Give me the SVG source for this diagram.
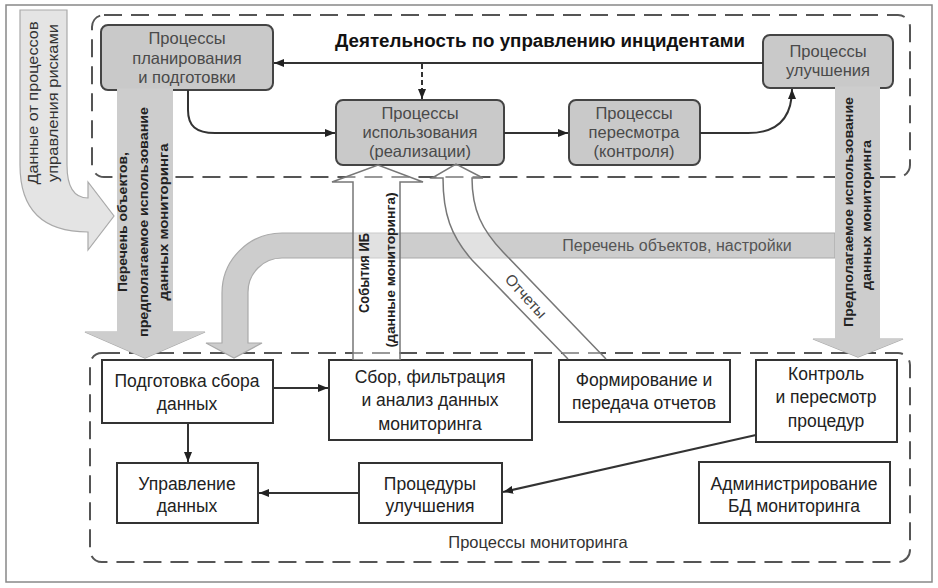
<svg xmlns="http://www.w3.org/2000/svg" width="938" height="588" viewBox="0 0 938 588">
<defs>
<marker id="ah" viewBox="0 0 10 8" markerWidth="10" markerHeight="8" refX="10" refY="4" orient="auto" markerUnits="userSpaceOnUse"><path d="M0,0 L10,4 L0,8 z" fill="#222"/></marker>
<style>
.frame{fill:#fff;stroke:#888;stroke-width:1.5}
.region{fill:none;stroke:#555;stroke-width:2;stroke-dasharray:18 9}
.tb{fill:#c9c9c9;stroke:#444;stroke-width:2}
.bb{fill:#fff;stroke:#333;stroke-width:2}
.tt{font-family:"Liberation Sans",Arial,sans-serif;font-size:16.5px;fill:#4a4a4a;text-anchor:middle}
.bt{font-family:"Liberation Sans",Arial,sans-serif;font-size:17.5px;fill:#222;text-anchor:middle}
.vt{font-family:"Liberation Sans",Arial,sans-serif;font-size:13.5px;font-weight:bold;fill:#222;text-anchor:middle}
.gt{font-family:"Liberation Sans",Arial,sans-serif;font-size:15px;fill:#555;text-anchor:middle}
.ln{fill:none;stroke:#333;stroke-width:2}
.big{fill:#cdcdcd;stroke:#aaa;stroke-width:1.2}
.shaft{fill:#cdcdcd;stroke:none}
.hollow{fill:#fff;fill-opacity:0.4;stroke:#777;stroke-width:1.5}
</style>
</defs>
<rect class="frame" x="6" y="5" width="926" height="577"/>
<g id="regions">
<rect class="region" x="92" y="15" width="818" height="162" rx="12"/>
<rect class="region" x="90" y="353" width="820" height="209" rx="12"/>
</g>
<text x="540" y="47" font-family="'Liberation Sans',Arial,sans-serif" font-size="18" font-weight="bold" fill="#111" text-anchor="middle" textLength="410" lengthAdjust="spacingAndGlyphs">Деятельность по управлению инцидентами</text>
<text x="538" y="548" font-family="'Liberation Sans',Arial,sans-serif" font-size="16.5" fill="#333" text-anchor="middle">Процессы мониторинга</text>

<g id="n-plan"><rect class="tb" x="101" y="25" width="172" height="65" rx="7"/>
<text class="tt" x="187" y="44">Процессы</text><text class="tt" x="187" y="64">планирования</text><text class="tt" x="187" y="83">и подготовки</text></g>
<g id="n-use"><rect class="tb" x="336" y="100" width="168" height="65" rx="7"/>
<text class="tt" x="420" y="119">Процессы</text><text class="tt" x="420" y="138">использования</text><text class="tt" x="420" y="157">(реализации)</text></g>
<g id="n-review"><rect class="tb" x="569" y="100" width="131" height="65" rx="7"/>
<text class="tt" x="634" y="119">Процессы</text><text class="tt" x="634" y="138">пересмотра</text><text class="tt" x="634" y="157">(контроля)</text></g>
<g id="n-improve"><rect class="tb" x="763" y="35" width="130" height="53" rx="7"/>
<text class="tt" x="828" y="57">Процессы</text><text class="tt" x="828" y="76">улучшения</text></g>

<g id="n-prep"><rect class="bb" x="102" y="360" width="171" height="63"/>
<text class="bt" x="187" y="387">Подготовка сбора</text><text class="bt" x="187" y="410">данных</text></g>
<g id="n-collect"><rect class="bb" x="329" y="360" width="203" height="80"/>
<text class="bt" x="430" y="383">Сбор, фильтрация</text><text class="bt" x="430" y="406">и анализ данных</text><text class="bt" x="430" y="430">мониторинга</text></g>
<g id="n-report"><rect class="bb" x="559" y="360" width="171" height="62"/>
<text class="bt" x="644" y="386">Формирование и</text><text class="bt" x="644" y="409">передача отчетов</text></g>
<g id="n-control"><rect class="bb" x="756" y="360" width="141" height="82"/>
<text class="bt" x="826" y="380">Контроль</text><text class="bt" x="826" y="403">и пересмотр</text><text class="bt" x="826" y="427">процедур</text></g>
<g id="n-datamgmt"><rect class="bb" x="117" y="463" width="141" height="60"/>
<text class="bt" x="187" y="490">Управление</text><text class="bt" x="187" y="512">данных</text></g>
<g id="n-procimp"><rect class="bb" x="359" y="463" width="143" height="60"/>
<text class="bt" x="430" y="490">Процедуры</text><text class="bt" x="430" y="512">улучшения</text></g>
<g id="n-admin"><rect class="bb" x="699" y="462" width="191" height="61"/>
<text class="bt" x="794" y="490">Администрирование</text><text class="bt" x="794" y="512">БД мониторинга</text></g>

<g id="connectors">
<path class="big" d="M835,233 H282 A60,60 0 0 0 222,293 V343 H206 L234,358 L262,343 H248 V292 A34,34 0 0 1 282,258 H835 Z"/>
<text class="gt" x="677" y="251" style="font-size:16px">Перечень объектов, настройки</text>
<path d="M20,10 H67 V165 Q67,198 88,198 V182 L114,216 L88,250 V232 Q20,232 20,165 Z" fill="#e4e4e4" stroke="#aaa" stroke-width="1.2"/>
<text transform="translate(33,103) rotate(-90)" dy="0.35em" class="gt" style="fill:#333;font-size:14px" textLength="163" lengthAdjust="spacingAndGlyphs">Данные от процессов</text>
<text transform="translate(53,103) rotate(-90)" dy="0.35em" class="gt" style="fill:#333;font-size:14px" textLength="158" lengthAdjust="spacingAndGlyphs">управления рисками</text>
<rect class="shaft" x="117" y="88.5" width="56" height="244"/>
<path class="big" d="M117,332 H85 L145,358 L205,332 H173"/>
<path d="M85,332 L145,358 L205,332 Z" fill="#cdcdcd"/>
<text transform="translate(122,222) rotate(-90)" dy="0.35em" class="vt" textLength="140" lengthAdjust="spacingAndGlyphs">Перечень объектов,</text>
<text transform="translate(143,222) rotate(-90)" dy="0.35em" class="vt" textLength="230" lengthAdjust="spacingAndGlyphs">предполагаемое использование</text>
<text transform="translate(163,222) rotate(-90)" dy="0.35em" class="vt" textLength="157" lengthAdjust="spacingAndGlyphs">данных мониторинга</text>
<rect class="shaft" x="835" y="86.5" width="45" height="253"/>
<path class="big" d="M835,339 H813 L858,357 L903,339 H880"/>
<path d="M813,339 L858,357 L903,339 Z" fill="#cdcdcd"/>
<text transform="translate(848,212) rotate(-90)" dy="0.35em" class="vt" textLength="230" lengthAdjust="spacingAndGlyphs">Предполагаемое использование</text>
<text transform="translate(866,215) rotate(-90)" dy="0.35em" class="vt" textLength="150" lengthAdjust="spacingAndGlyphs">данных мониторинга</text>
<path class="hollow" d="M353,360 V182 H332 L378,165 L423,182 H400 V360"/>
<text transform="translate(364,273) rotate(-90)" dy="0.35em" class="vt" style="font-size:14px" textLength="80" lengthAdjust="spacingAndGlyphs">События ИБ</text>
<text transform="translate(390,270) rotate(-90)" dy="0.35em" class="vt" textLength="155" lengthAdjust="spacingAndGlyphs">(данные мониторинга)</text>
<path class="hollow" d="M568,359 L472,260 C451,236 443,214 443,178 H432 L456,164 L483,178 H472 C472,210 482,230 503,252 L606,359"/>
<text transform="translate(526,296) rotate(48)" dy="0.35em" class="gt" style="fill:#444;font-size:15.5px">Отчеты</text>
<path class="ln" d="M763,63 H274" marker-end="url(#ah)"/>
<path class="ln" d="M422,64 V99" stroke-dasharray="5 3" marker-end="url(#ah)"/>
<path class="ln" d="M188,90 V110 C188,126 196,133 215,133 H335" marker-end="url(#ah)"/>
<path class="ln" d="M504,133 H568" marker-end="url(#ah)"/>
<path class="ln" d="M700,133 H748 C778,133 792,118 792,89" marker-end="url(#ah)"/>
<path class="ln" d="M273,388 H328" marker-end="url(#ah)"/>
<path class="ln" d="M188,423 V462" marker-end="url(#ah)"/>
<path class="ln" d="M359,493 H259" marker-end="url(#ah)"/>
<path class="ln" d="M756,435 L503,492" marker-end="url(#ah)"/>
</g>
</svg>
